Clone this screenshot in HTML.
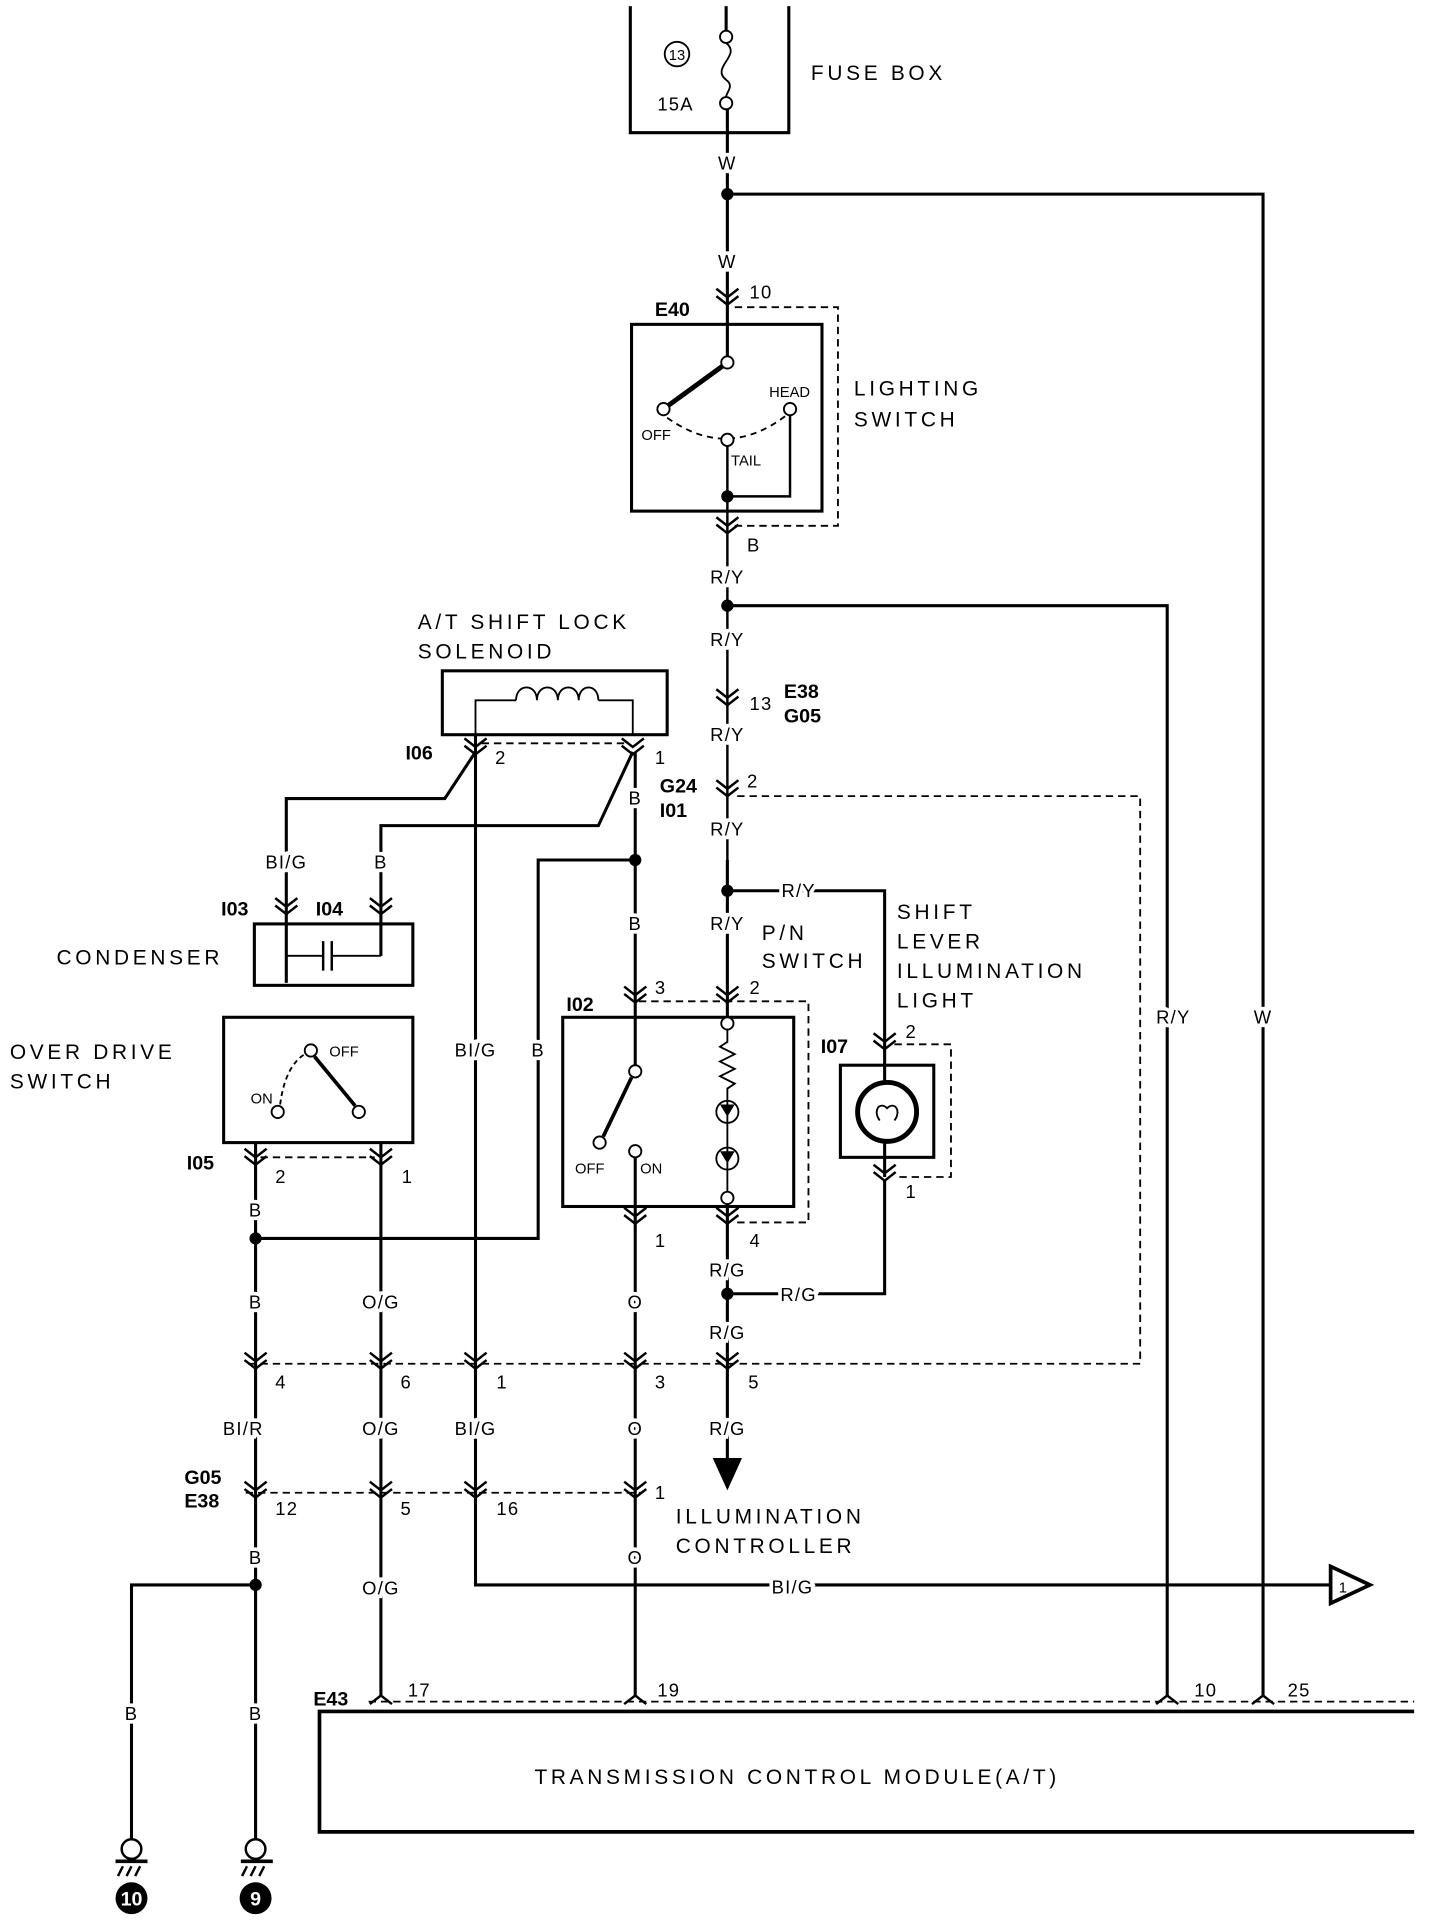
<!DOCTYPE html>
<html><head><meta charset="utf-8"><style>
html,body{margin:0;padding:0;background:#fff;overflow:hidden;}
svg{display:block;}
text{font-family:"Liberation Sans",sans-serif;fill:#000;}
.l{font-size:17px;letter-spacing:3px;}
.s{font-size:15px;letter-spacing:1px;}
.w text{paint-order:stroke;stroke:#fff;stroke-width:6px;}
.b{font-size:16px;font-weight:bold;}
.t{font-size:12px;}
</style></head><body>
<svg width="1440" height="1924" viewBox="0 0 1172 1566" xmlns="http://www.w3.org/2000/svg">
<defs>
<g id="cd"><path d="M-9,-7 L0,0 L9,-7 M-9,-1 L0,6 L9,-1" fill="none" stroke="#000" stroke-width="2"/></g>
<g id="cu"><path d="M-9,7 L0,0 L9,7" fill="none" stroke="#000" stroke-width="2"/></g>
</defs>
<g fill="none" stroke="#000" stroke-width="2.5">
<path d="M513,5 V108 H642 V5"/>
<circle cx="551" cy="44" r="10" stroke-width="1.5"/>
<circle cx="591" cy="30" r="5" stroke-width="1.5"/>
<circle cx="591" cy="84" r="5" stroke-width="1.5"/>
<path d="M591,35 C604,45 578,55 591,65 C598,70 591,75 591,79" stroke-width="1.5"/>
<path d="M591,5 V25"/>
<path d="M592,89 V290"/>
<path d="M592,158 H1028 V1380"/>
<rect x="514" y="264" width="155" height="152"/>
<path d="M598,250 H682 V428 H598" stroke-dasharray="6,4" stroke-width="1.5"/>
<circle cx="592" cy="295" r="5" fill="#fff" stroke-width="1.5"/>
<path d="M588,298 L544,330" stroke-width="4"/>
<circle cx="540" cy="333" r="5" fill="#fff" stroke-width="1.5"/>
<path d="M543,340 Q592,375 640,338" stroke-dasharray="5,4" stroke-width="1.5"/>
<circle cx="592" cy="358" r="5" fill="#fff" stroke-width="1.5"/>
<circle cx="643" cy="333" r="5" fill="#fff" stroke-width="1.5"/>
<path d="M643,338 V404 H592 M592,363 V700" stroke-width="2"/>
<path d="M592,493 H950 V1380"/>
<path d="M600,648 H928 V1110 H200" stroke-dasharray="6,4" stroke-width="1.5"/>
<path d="M592,700 V828"/>
<path d="M592,725 H720 V848"/>
<path d="M520,815 H658 V995 H598" stroke-dasharray="6,4" stroke-width="1.5"/>
<rect x="458" y="828" width="188" height="154"/>
<path d="M517,612 V868"/>
<circle cx="517" cy="872" r="5" fill="#fff" stroke-width="1.5"/>
<path d="M514,877 L491,925" stroke-width="3"/>
<circle cx="488" cy="930" r="5" fill="#fff" stroke-width="1.5"/>
<circle cx="517" cy="937" r="5" fill="#fff" stroke-width="1.5"/>
<path d="M517,942 V1380"/>
<circle cx="592" cy="833" r="5" fill="#fff" stroke-width="1.5"/>
<path d="M592,838 V848 L586,852 L598,858 L586,864 L598,870 L586,876 L598,882 L592,886 V970" stroke-width="1.5"/>
<circle cx="592" cy="905" r="9" stroke-width="1.5"/>
<circle cx="592" cy="943" r="9" stroke-width="1.5"/>
<circle cx="592" cy="975" r="5" fill="#fff" stroke-width="1.5"/>
<path d="M592,980 V1190"/>
<path d="M592,1053 H720 V960"/>
<path d="M728,850 H774 V958 H728" stroke-dasharray="6,4" stroke-width="1.5"/>
<rect x="684" y="867" width="76" height="75"/>
<circle cx="722" cy="905" r="24" stroke-width="4"/>
<path d="M720,848 V881 M720,929 V958"/>
<path d="M716,912 c-6,-8 0,-16 6,-10 c6,-6 12,2 6,10" stroke-width="1.5"/>
<rect x="360" y="546" width="183" height="52"/>
<path d="M387,598 V570 H420 M487,570 H515 V598" stroke-width="1.5"/>
<path d="M420,570 c0,-14 17,-14 17,0 c0,-14 17,-14 17,0 c0,-14 17,-14 17,0 c0,-14 16,-14 16,0" stroke-width="1.5"/>
<path d="M392,605 H510" stroke-dasharray="6,4" stroke-width="1.5"/>
<path d="M387,598 V1290 H1083"/>
<path d="M387,612 L362,650 H233 V800"/>
<path d="M515,612 L487,672 H310 V778"/>
<path d="M517,700 H438 V1008 H207"/>
<rect x="207" y="752" width="129" height="50"/>
<path d="M233,752 V778 H262 M270,778 H310" stroke-width="1.5"/>
<path d="M263,766 V790 M270,766 V790" stroke-width="2"/>
<rect x="182" y="828" width="154" height="102"/>
<circle cx="226" cy="905" r="5" fill="#fff" stroke-width="1.5"/>
<circle cx="292" cy="905" r="5" fill="#fff" stroke-width="1.5"/>
<circle cx="253" cy="855" r="5" fill="#fff" stroke-width="1.5"/>
<path d="M256,860 L289,900" stroke-width="3"/>
<path d="M228,899 Q232,868 248,858" stroke-dasharray="4,3" stroke-width="1.5"/>
<path d="M212,942 H305" stroke-dasharray="6,4" stroke-width="1.5"/>
<path d="M208,930 V1498"/>
<path d="M310,930 V1380"/>
<path d="M208,1290 H107 V1498"/>
<path d="M200,1215 H522" stroke-dasharray="6,4" stroke-width="1.5"/>
<path d="M300,1385 H1151" stroke-dasharray="6,4" stroke-width="1.5"/>
<path d="M1151,1393 H260 V1491 H1151" stroke-width="3"/>
<polygon points="1083,1275 1115,1290 1083,1305" fill="#fff" stroke-width="3"/>
<polygon points="582,1188 602,1188 592,1210" fill="#000"/>
<circle cx="107" cy="1505" r="8" stroke-width="2"/>
<circle cx="208" cy="1505" r="8" stroke-width="2"/>
<path d="M94,1515 H120 M196,1515 H222" stroke-width="3"/>
<path d="M100,1519 L96,1527 M107,1519 L103,1527 M114,1519 L110,1527 M201,1519 L197,1527 M208,1519 L204,1527 M215,1519 L211,1527" stroke-width="2"/>
</g>
<g fill="#000">
<circle cx="592" cy="158" r="5"/><circle cx="592" cy="404" r="5"/><circle cx="592" cy="493" r="5"/>
<circle cx="592" cy="725" r="5"/><circle cx="517" cy="700" r="5"/><circle cx="592" cy="1053" r="5"/>
<circle cx="208" cy="1008" r="5"/><circle cx="208" cy="1290" r="5"/>
<circle cx="107" cy="1545" r="13"/><circle cx="208" cy="1545" r="13"/>
<path d="M586,899 h12 l-6,10 z M586,937 h12 l-6,10 z"/>
</g>
<use href="#cd" x="592" y="242"/><use href="#cd" x="592" y="428"/><use href="#cd" x="592" y="568"/>
<use href="#cd" x="592" y="642"/><use href="#cd" x="517" y="810"/><use href="#cd" x="592" y="810"/>
<use href="#cd" x="517" y="990"/><use href="#cd" x="592" y="990"/><use href="#cd" x="720" y="848"/>
<use href="#cd" x="720" y="955"/><use href="#cd" x="387" y="608"/><use href="#cd" x="515" y="608"/>
<use href="#cd" x="233" y="738"/><use href="#cd" x="310" y="738"/><use href="#cd" x="208" y="942"/>
<use href="#cd" x="310" y="942"/>
<use href="#cd" x="208" y="1108"/><use href="#cd" x="310" y="1108"/><use href="#cd" x="387" y="1108"/>
<use href="#cd" x="517" y="1108"/><use href="#cd" x="592" y="1108"/>
<use href="#cd" x="208" y="1213"/><use href="#cd" x="310" y="1213"/><use href="#cd" x="387" y="1213"/><use href="#cd" x="517" y="1213"/>
<use href="#cu" x="310" y="1380"/><use href="#cu" x="517" y="1380"/><use href="#cu" x="950" y="1380"/><use href="#cu" x="1028" y="1380"/>
<g text-anchor="middle" class="s w">
<text x="592" y="138">W</text><text x="592" y="218">W</text>
<text x="592" y="475">R/Y</text><text x="592" y="526">R/Y</text><text x="592" y="603">R/Y</text>
<text x="592" y="680">R/Y</text><text x="592" y="757">R/Y</text><text x="650" y="730">R/Y</text>
<text x="592" y="1039">R/G</text><text x="650" y="1059">R/G</text><text x="592" y="1090">R/G</text><text x="592" y="1168">R/G</text>
<text x="517" y="655">B</text><text x="517" y="757">B</text><text x="438" y="860">B</text><text x="387" y="860">BI/G</text>
<text x="233" y="707">BI/G</text><text x="310" y="707">B</text>
<text x="208" y="990">B</text><text x="208" y="1065">B</text><text x="310" y="1065">O/G</text><text x="517" y="1065">O</text>
<text x="198" y="1168">BI/R</text><text x="310" y="1168">O/G</text><text x="387" y="1168">BI/G</text><text x="517" y="1168">O</text>
<text x="208" y="1273">B</text><text x="310" y="1298">O/G</text><text x="517" y="1273">O</text>
<text x="645" y="1297">BI/G</text>
<text x="107" y="1400">B</text><text x="208" y="1400">B</text>
<text x="955" y="833">R/Y</text><text x="1028" y="833">W</text>
</g>
<g text-anchor="middle">
<text x="551" y="49" class="t">13</text>
<text x="1093" y="1296" class="t">1</text>
<text x="107" y="1551" class="b" style="fill:#fff">10</text>
<text x="208" y="1551" class="b" style="fill:#fff">9</text>
</g>
<g class="s">
<text x="535" y="90">15A</text>
<text x="610" y="243">10</text><text x="608" y="449">B</text>
<text x="610" y="578">13</text><text x="608" y="641">2</text>
<text x="533" y="809">3</text><text x="610" y="809">2</text>
<text x="533" y="1015">1</text><text x="610" y="1015">4</text>
<text x="737" y="845">2</text><text x="737" y="975">1</text>
<text x="403" y="622">2</text><text x="533" y="622">1</text>
<text x="224" y="963">2</text><text x="327" y="963">1</text>
<text x="224" y="1130">4</text><text x="326" y="1130">6</text><text x="404" y="1130">1</text><text x="533" y="1130">3</text><text x="609" y="1130">5</text>
<text x="224" y="1233">12</text><text x="326" y="1233">5</text><text x="404" y="1233">16</text><text x="533" y="1220">1</text>
<text x="332" y="1381">17</text><text x="535" y="1381">19</text><text x="972" y="1381">10</text><text x="1048" y="1381">25</text>
</g>
<g class="t">
<text x="626" y="323">HEAD</text><text x="522" y="358">OFF</text><text x="595" y="379">TAIL</text>
<text x="468" y="955">OFF</text><text x="521" y="955">ON</text>
<text x="204" y="898">ON</text><text x="268" y="860">OFF</text>
</g>
<g class="b">
<text x="533" y="257">E40</text><text x="638" y="568">E38</text><text x="638" y="588">G05</text>
<text x="537" y="645">G24</text><text x="537" y="665">I01</text><text x="461" y="823">I02</text>
<text x="668" y="857">I07</text><text x="330" y="618">I06</text>
<text x="180" y="745">I03</text><text x="257" y="745">I04</text><text x="152" y="952">I05</text>
<text x="150" y="1208">G05</text><text x="150" y="1227">E38</text><text x="255" y="1388">E43</text>
</g>
<g class="l">
<text x="660" y="65">FUSE BOX</text>
<text x="695" y="322">LIGHTING</text><text x="695" y="347">SWITCH</text>
<text x="340" y="512">A/T SHIFT LOCK</text><text x="340" y="536">SOLENOID</text>
<text x="620" y="765">P/N</text><text x="620" y="788">SWITCH</text>
<text x="730" y="748">SHIFT</text><text x="730" y="772">LEVER</text><text x="730" y="796">ILLUMINATION</text><text x="730" y="820">LIGHT</text>
<text x="46" y="785">CONDENSER</text>
<text x="8" y="862">OVER DRIVE</text><text x="8" y="886">SWITCH</text>
<text x="550" y="1240">ILLUMINATION</text><text x="550" y="1264">CONTROLLER</text>
<text x="435" y="1452">TRANSMISSION CONTROL MODULE(A/T)</text>
</g>
</svg>
</body></html>
